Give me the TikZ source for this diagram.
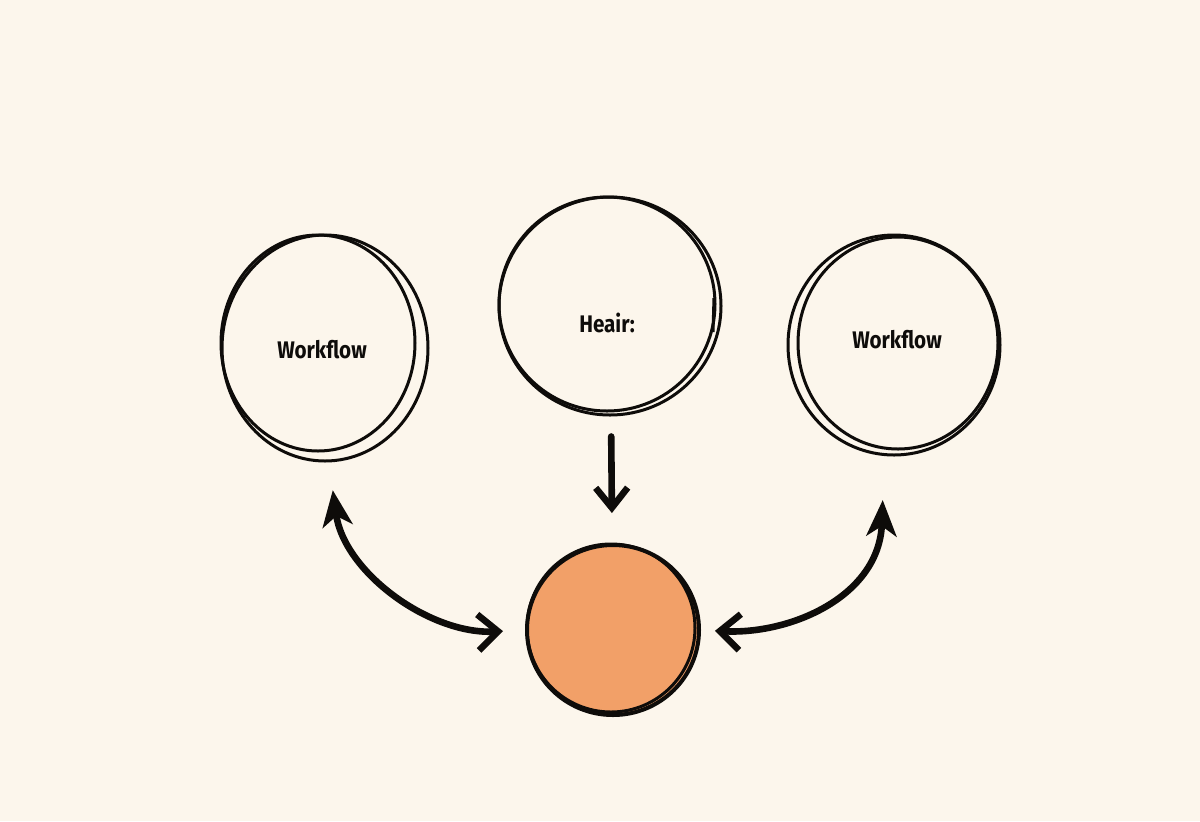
\documentclass[tikz,border=0pt]{standalone}
\usepackage{fontspec}
\setmainfont{Fira Sans}
\newfontfamily\handfont[FakeStretch=0.86]{Fira Sans}
\usetikzlibrary{arrows.meta,shapes.geometric}
\definecolor{bgc}{RGB}{252,246,236}
\definecolor{ink}{RGB}{14,12,10}
\definecolor{orng}{RGB}{242,160,104}
\tikzset{
  sketch/.style={draw=ink, line width=1.5pt},
  ring/.style={sketch, ellipse, inner sep=0pt},
  lbl/.style={text=ink, font=\handfont\bfseries\fontsize{12}{14}\selectfont},
  arr/.style={draw=ink, line width=3.3pt, line cap=round},
  skBarb/.tip={Straight Barb[length=10pt,width=18pt]},
  skSpike/.tip={Stealth[length=18pt,width=15pt,inset=5pt]}
}
\begin{document}
\begin{tikzpicture}[x=0.5pt,y=-0.5pt]
\useasboundingbox (0,0) rectangle (1200,821);
\fill[bgc] (0,0) rectangle (1200,821);

% left circle
\node[ring, minimum width=103pt, minimum height=113pt] (L) at (325,348) {};
\draw[sketch] (318,343) ellipse [x radius=48.5pt, y radius=54pt];
\node[lbl] (Lt) at (322,350) {Workflow};

% middle circle
\node[ring, minimum width=111pt, minimum height=109pt] (M) at (610,306) {};
\draw[sketch] (607,304) ellipse [x radius=54pt, y radius=53.5pt];
\draw[sketch] (714,298) -- (713,332);
\node[lbl] (Mt) at (607,323) {Heair:};

% right circle
\node[ring, minimum width=106pt, minimum height=110pt] (R) at (894,345) {};
\draw[sketch] (898,343) ellipse [x radius=50pt, y radius=53pt];
\node[lbl] (Rt) at (897,340) {Workflow};

% orange circle
\node[ring, fill=orng, line width=2pt, minimum width=86pt, minimum height=85pt] (O) at (613,630) {};
\draw[sketch] (611,628) ellipse [x radius=42pt, y radius=42pt];

% arrows
\draw[arr, -{Straight Barb[length=10pt,width=16pt]}, shorten <=10pt, shorten >=15pt] (M) -- (O);
\draw[arr, {skSpike}-{skBarb}, shorten <=14pt, shorten >=11pt]
  (L.-88) .. controls +(15,110) and +(-95,5) .. (O.west);
\draw[arr, {skSpike}-{skBarb}, shorten <=22pt, shorten >=7pt]
  (R.-95) .. controls +(-5,140) and +(90,5) .. (O.east);
\end{tikzpicture}
\end{document}
